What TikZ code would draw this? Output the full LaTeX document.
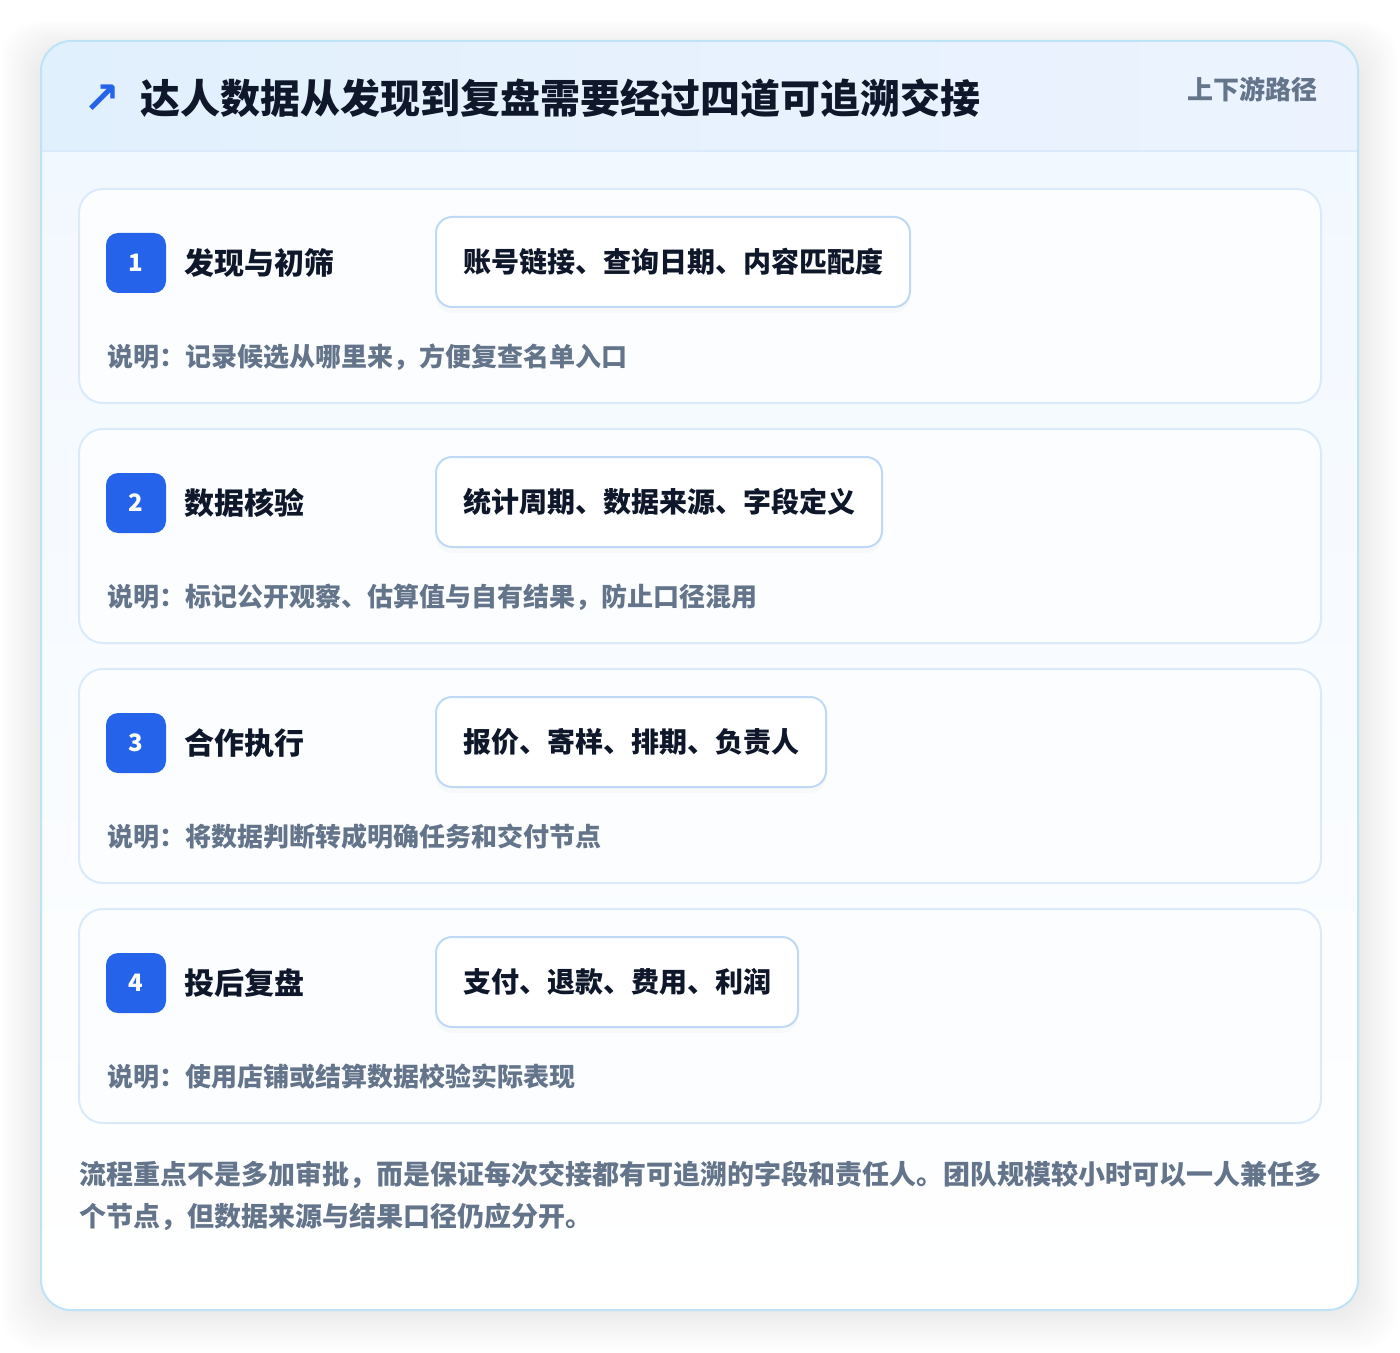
\documentclass[tikz,border=0pt]{standalone}
\usepackage{fontspec}
\setmainfont{Noto Sans CJK SC}
\newfontfamily\symfont{DejaVu Sans}
\usepackage{tikz}
\usetikzlibrary{shadows}
\definecolor{panelline}{HTML}{BFE3F6}
\definecolor{headleft}{HTML}{E1F0FD}
\definecolor{headright}{HTML}{ECF3FE}
\definecolor{bodytop}{HTML}{F2F8FF}
\definecolor{cardline}{HTML}{DBEAFB}
\definecolor{cardfill}{HTML}{FCFDFF}
\definecolor{chipline}{HTML}{BFD8F6}
\definecolor{badgeblue}{HTML}{2563EB}
\definecolor{ink}{HTML}{0F172A}
\definecolor{muted}{HTML}{64748B}

\tikzset{
  card/.style={draw=cardline, line width=1pt, fill=cardfill, rounded corners=12pt,
    minimum width=621pt, minimum height=107pt},
  badge/.style={fill=badgeblue, text=white, rounded corners=6pt, minimum size=30pt,
    inner sep=0pt, font=\fontsize{12}{13}\selectfont\bfseries},
  steptitle/.style={anchor=west, inner sep=0pt, text=ink,
    font=\fontsize{15}{18}\selectfont\bfseries},
  chip/.style={anchor=west, draw=chipline, line width=1pt, fill=white, rounded corners=8pt,
    minimum height=45pt, inner xsep=13.5pt, text=ink,
    font=\fontsize{14}{16}\selectfont\bfseries,
    drop shadow={opacity=0.04, shadow xshift=0pt, shadow yshift=-3pt}},
  note/.style={anchor=west, inner sep=0pt, text=muted,
    font=\fontsize{13}{16}\selectfont\bfseries},
}

\begin{document}
\begin{tikzpicture}[x=0.5pt, y=-0.5pt]
		\useasboundingbox (0,0) rectangle (1400,1352);
		\fill[white] (0,0) rectangle (1400,1352);
		
		% soft shadow under the panel
		\foreach \i in {1,...,20}
			\fill[black, opacity=0.004, rounded corners=18pt] (41-2*\i,51-1.5*\i) rectangle (1358+2*\i,1310+2*\i);
		
		% panel with header band
		\begin{scope}
			\clip[rounded corners=15pt] (41,41) rectangle (1358,1310);
			\shade[left color=headleft, right color=headright] (41,41) rectangle (1358,151);
			\shade[top color=bodytop, bottom color=white] (41,151) rectangle (1358,1310);
			\draw[cardline, line width=1pt] (41,151) -- (1358,151);
		\end{scope}
		\draw[panelline, line width=1pt, rounded corners=15pt] (41,41) rectangle (1358,1310);
		
		\node[text=badgeblue, inner sep=0pt, font=\symfont\bfseries\fontsize{22}{24}\selectfont] (arrow) at (102,99) {↗};
		\node[anchor=west, inner sep=0pt, text=ink, font=\fontsize{20}{24}\selectfont\bfseries] (title) at (140,98) {达人数据从发现到复盘需要经过四道可追溯交接};
		\node[anchor=east, inner sep=0pt, text=muted, font=\fontsize{13}{16}\selectfont\bfseries] (tag) at (1318,89) {上下游路径};
		
		% step 1
		\node[card] (s1) at (700,296) {};
		\node[badge] (b1) at (136,263) {1};
		\node[steptitle] (t1) at (184,263) {发现与初筛};
		\node[chip] (c1) at (435,262) {账号链接、查询日期、内容匹配度};
		\node[note] (n1) at (107,357) {说明：记录候选从哪里来，方便复查名单入口};
		
		% step 2
		\node[card] (s2) at (700,536) {};
		\node[badge] (b2) at (136,503) {2};
		\node[steptitle] (t2) at (184,503) {数据核验};
		\node[chip] (c2) at (435,502) {统计周期、数据来源、字段定义};
		\node[note] (n2) at (107,597) {说明：标记公开观察、估算值与自有结果，防止口径混用};
		
		% step 3
		\node[card] (s3) at (700,776) {};
		\node[badge] (b3) at (136,743) {3};
		\node[steptitle] (t3) at (184,743) {合作执行};
		\node[chip] (c3) at (435,742) {报价、寄样、排期、负责人};
		\node[note] (n3) at (107,837) {说明：将数据判断转成明确任务和交付节点};
		
		% step 4
		\node[card] (s4) at (700,1016) {};
		\node[badge] (b4) at (136,983) {4};
		\node[steptitle] (t4) at (184,983) {投后复盘};
		\node[chip] (c4) at (435,982) {支付、退款、费用、利润};
		\node[note] (n4) at (107,1077) {说明：使用店铺或结算数据校验实际表现};
		
		\node[anchor=north west, align=left, inner sep=0pt, text=muted, font=\fontsize{13.5}{21}\selectfont\bfseries] (foot) at (79,1161) {流程重点不是多加审批，而是保证每次交接都有可追溯的字段和责任人。团队规模较小时可以一人兼任多\\个节点，但数据来源与结果口径仍应分开。};
	\end{tikzpicture}
\end{document}
